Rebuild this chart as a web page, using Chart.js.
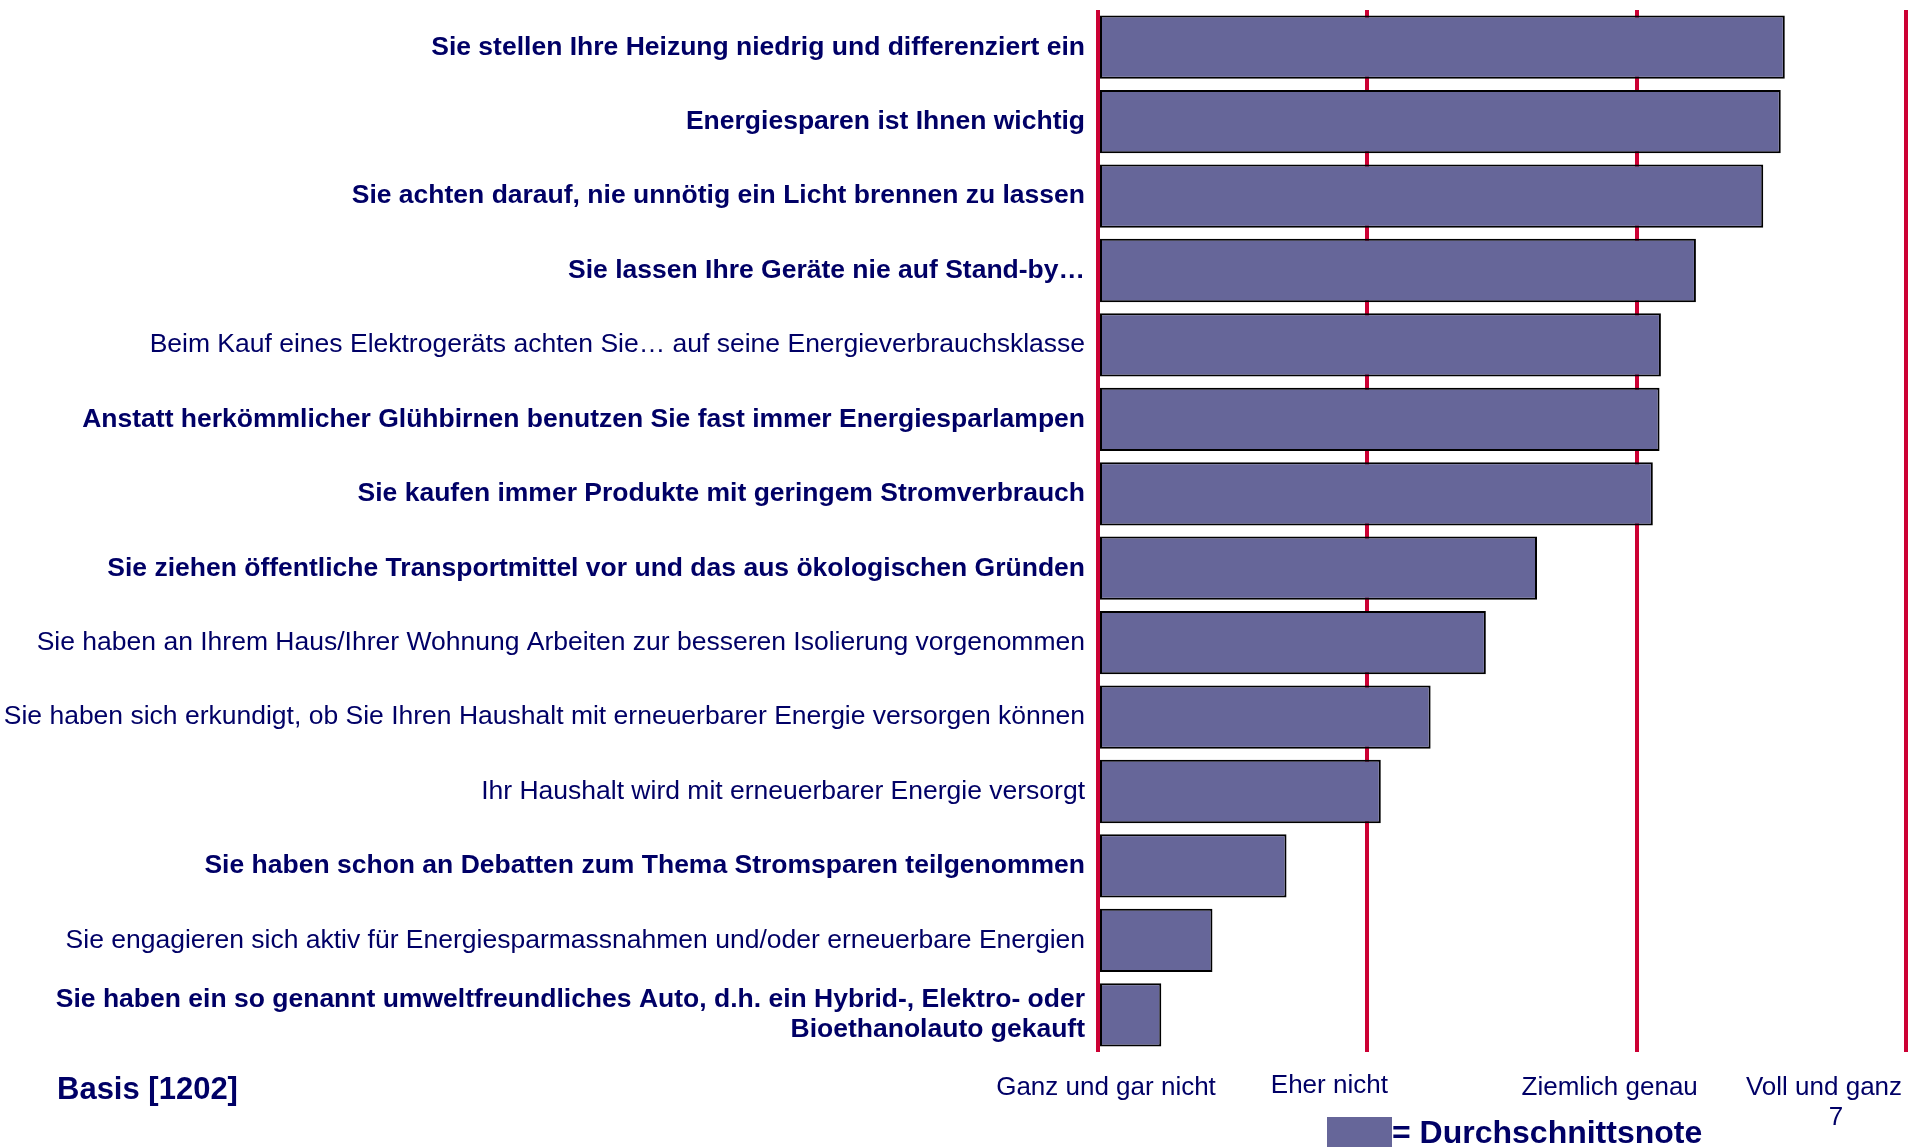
<!DOCTYPE html>
<html>
<head>
<meta charset="utf-8">
<script src="https://cdn.jsdelivr.net/npm/chart.js@4.4.1/dist/chart.umd.min.js"></script>
<style>
  html, body { margin: 0; padding: 0; background: #ffffff; }
  #wrap { width: 1910px; height: 1147px; position: relative; }
</style>
</head>
<body>
<div id="wrap"><canvas id="c" width="1910" height="1147"></canvas></div>
<script>
// ---- data ----
const categories = [
  "Sie stellen Ihre Heizung niedrig und differenziert ein",
  "Energiesparen ist Ihnen wichtig",
  "Sie achten darauf, nie unnötig ein Licht brennen zu lassen",
  "Sie lassen Ihre Geräte nie auf Stand-by…",
  "Beim Kauf eines Elektrogeräts achten Sie… auf seine Energieverbrauchsklasse",
  "Anstatt herkömmlicher Glühbirnen benutzen Sie fast immer Energiesparlampen",
  "Sie kaufen immer Produkte mit geringem Stromverbrauch",
  "Sie ziehen öffentliche Transportmittel vor und das aus ökologischen Gründen",
  "Sie haben an Ihrem Haus/Ihrer Wohnung Arbeiten zur besseren Isolierung vorgenommen",
  "Sie haben sich erkundigt, ob Sie Ihren Haushalt mit erneuerbarer Energie versorgen können",
  "Ihr Haushalt wird mit erneuerbarer Energie versorgt",
  "Sie haben schon an Debatten zum Thema Stromsparen teilgenommen",
  "Sie engagieren sich aktiv für Energiesparmassnahmen und/oder erneuerbare Energien",
  ["Sie haben ein so genannt umweltfreundliches Auto, d.h. ein Hybrid-, Elektro- oder", "Bioethanolauto gekauft"]
];
const boldLabels = [true, true, true, true, false, true, true, true, false, false, false, true, false, true];
const averageScores = [6.10, 6.07, 5.94, 5.44, 5.18, 5.17, 5.12, 4.26, 3.88, 3.47, 3.10, 2.40, 1.85, 1.47];
const scaleValues = [1, 3, 5, 7];
const scaleLabels = ["Ganz und gar nicht", "Eher nicht", "Ziemlich genau", "Voll und ganz"];
const scaleExtra = "7";
const basisText = "Basis [1202]";
const legendText = "= Durchschnittsnote";

const NAVY = "#000066";
const BAR = "#666699";
const RED = "#CC0033";
const FONT = "'Liberation Sans', Arial, Helvetica, sans-serif";

const labelOffsets = [8, -38, -27, -82];

const overlay = {
  id: 'overlay',
  afterDraw(chart) {
    const ctx = chart.ctx;
    const xs = chart.scales.x;
    ctx.save();
    ctx.fillStyle = NAVY;
    ctx.textBaseline = 'middle';
    ctx.textAlign = 'center';
    ctx.font = "normal 26px " + FONT;
    scaleValues.forEach((v, i) => {
      const px = xs.getPixelForValue(v) + labelOffsets[i];
      ctx.fillText(scaleLabels[i], px, i === 1 ? 1086 : 1088);
    });
    ctx.fillText(scaleExtra, xs.getPixelForValue(scaleValues[3]) - 70, 1118);
    // Basis
    ctx.textAlign = 'left';
    ctx.font = "bold 31px " + FONT;
    ctx.fillText(basisText, 57, 1090);
    // legend
    ctx.fillStyle = BAR;
    ctx.fillRect(1327, 1117, 65, 30);
    ctx.fillStyle = NAVY;
    ctx.font = "bold 32px " + FONT;
    ctx.fillText(legendText, 1392, 1134);
    ctx.restore();
  }
};

new Chart(document.getElementById('c'), {
  type: 'bar',
  data: {
    labels: categories,
    datasets: [{
      label: 'Durchschnittsnote',
      data: averageScores,
      backgroundColor: BAR,
      borderColor: '#000000',
      borderWidth: 2,
      borderSkipped: false,
      barPercentage: 0.85,
      categoryPercentage: 1.0,
      base: 1
    }]
  },
  options: {
    indexAxis: 'y',
    responsive: false,
    animation: false,
    devicePixelRatio: 1,
    layout: { padding: { left: 0, right: 4, top: 10, bottom: 95 } },
    plugins: {
      legend: { display: false },
      tooltip: { enabled: false }
    },
    scales: {
      x: {
        type: 'linear',
        min: 1, max: 7,
        position: 'bottom',
        border: { display: false },
        grid: {
          color: (c) => (c.tick && scaleValues.includes(c.tick.value)) ? RED : 'rgba(0,0,0,0)',
          lineWidth: 4,
          drawTicks: false
        },
        ticks: { display: false, stepSize: 1 },
        afterFit(scale) { scale.paddingLeft = 0; scale.paddingRight = 0; }
      },
      y: {
        position: 'left',
        border: { display: false },
        grid: { display: false, drawTicks: false },
        afterFit(scale) { scale.width = 1098; scale.paddingTop = 0; scale.paddingBottom = 0; },
        ticks: {
          padding: 13,
          color: NAVY,
          autoSkip: false,
          font: (c) => ({ family: FONT, size: 26.5, weight: boldLabels[c.index] ? 'bold' : 'normal', lineHeight: 1.15 })
        }
      }
    }
  },
  plugins: [overlay]
});
</script>
</body>
</html>
